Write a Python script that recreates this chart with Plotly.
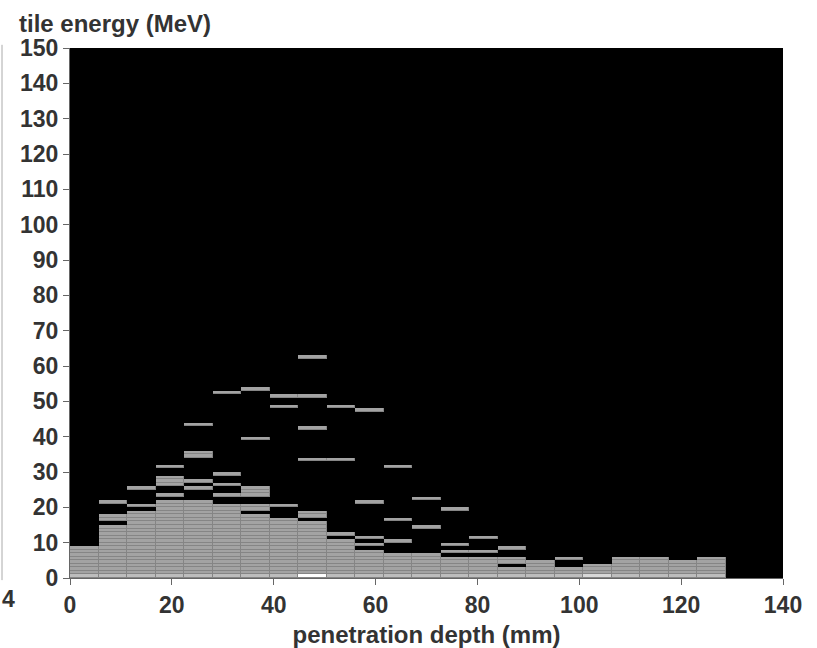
import plotly.graph_objects as go

# ---- data (2D histogram, 5.6 mm x 1 MeV bins) ----
x_edges = [round(i * 5.6, 1) for i in range(26)]      # penetration depth bins (mm)
y_edges = list(range(151))                             # tile energy bins (MeV)

# filled energy-bin ranges (inclusive) per depth column
col_ranges = [
    [(0, 8)],                                               # 0
    [(0, 14), (16, 17), (21, 21)],                          # 1
    [(0, 18), (20, 20), (25, 25)],                          # 2
    [(0, 21), (23, 23), (26, 28), (31, 31)],                # 3
    [(0, 21), (25, 25), (27, 27), (34, 35), (43, 43)],      # 4
    [(0, 20), (23, 23), (26, 26), (29, 29), (52, 52)],      # 5
    [(0, 17), (19, 20), (23, 25), (39, 39), (53, 53)],      # 6
    [(0, 16), (20, 20), (48, 48), (51, 51)],                # 7
    [(0, 15), (17, 18), (33, 33), (42, 42), (51, 51), (62, 62)],  # 8
    [(0, 10), (12, 12), (33, 33), (48, 48)],                # 9
    [(0, 7), (9, 9), (11, 11), (21, 21), (47, 47)],         # 10
    [(0, 6), (10, 10), (16, 16), (31, 31)],                 # 11
    [(0, 6), (14, 14), (22, 22)],                           # 12
    [(0, 5), (7, 7), (9, 9), (19, 19)],                     # 13
    [(0, 5), (7, 7), (11, 11)],                             # 14
    [(0, 2), (4, 5), (8, 8)],                               # 15
    [(0, 4)],                                               # 16
    [(0, 2), (5, 5)],                                       # 17
    [(0, 3)],                                               # 18
    [(0, 5)],                                               # 19
    [(0, 5)],                                               # 20
    [(0, 4)],                                               # 21
    [(0, 5)],                                               # 22
    [],                                                     # 23
    [],                                                     # 24
]
# cells with more than one entry: (column, energy bin) -> count
cell_counts = {(c, 0): 2 for c in range(23)}
cell_counts[(8, 0)] = 4
cell_counts[(18, 0)] = 3

# ---- build the histogram matrix ----
nx, ny = len(x_edges) - 1, len(y_edges) - 1
z = [[None] * nx for _ in range(ny)]
for c, ranges in enumerate(col_ranges):
    for lo, hi in ranges:
        for e in range(lo, hi + 1):
            z[e][c] = 1
for (c, e), n in cell_counts.items():
    z[e][c] = n
z_mask = [[(1 if v else None) for v in row] for row in z]

fig = go.Figure()
# darker underlay -> cell outlines
fig.add_trace(go.Heatmap(
    x=x_edges, y=y_edges, z=z_mask, zmin=0, zmax=1,
    colorscale=[[0, "#858585"], [1, "#858585"]],
    showscale=False, hoverinfo="skip"))
fig.add_trace(go.Heatmap(
    x=x_edges, y=y_edges, z=z, zmin=1, zmax=4, xgap=1, ygap=1,
    colorscale=[[0, "#a3a3a3"], [0.25, "#a3a3a3"], [0.25, "#bdbdbd"], [0.5, "#bdbdbd"],
                [0.5, "#d8d8d8"], [0.75, "#d8d8d8"], [0.75, "#ffffff"], [1, "#ffffff"]],
    showscale=False))

tick_font = dict(family="Liberation Sans, Arial, sans-serif", size=23, color="#333", weight="bold")
title_font = dict(family="Liberation Sans, Arial, sans-serif", size=24, color="#333", weight="bold")
fig.update_layout(
    width=817, height=648,
    margin=dict(l=70, r=34, t=48, b=70),
    paper_bgcolor="white", plot_bgcolor="black",
    font=tick_font,
    xaxis=dict(range=[0, 140], tickmode="array", tickvals=list(range(0, 141, 20)),
               tickfont=tick_font, automargin=False,
               showgrid=False, zeroline=False, showline=True, linecolor="#666", linewidth=1,
               ticks="outside", ticklen=6, tickcolor="#666",
               title=dict(text="penetration depth (mm)", standoff=10, font=title_font)),
    yaxis=dict(range=[0, 150], tickmode="array", tickvals=list(range(0, 151, 10)),
               tickfont=tick_font, automargin=False,
               showgrid=False, zeroline=False, showline=True, linecolor="#666", linewidth=1,
               ticks="outside", ticklen=6, tickcolor="#666"),
    annotations=[
        dict(text="tile energy (MeV)", xref="paper", yref="paper",
             x=(17 - 70) / 713, y=1 + (48 - 8) / 530, xanchor="left", yanchor="top",
             showarrow=False, font=title_font),
        dict(text="4", xref="paper", yref="paper", x=(17 - 70) / 713, y=(578 - 584) / 530,
             xanchor="right", yanchor="top", showarrow=False, font=tick_font),
    ],
    shapes=[dict(type="line", xref="paper", yref="paper",
                 x0=(2 - 70) / 713, x1=(2 - 70) / 713, y0=-0.004, y1=1.006,
                 line=dict(color="#aaa", width=1))],
)
fig.write_html("out.html")
